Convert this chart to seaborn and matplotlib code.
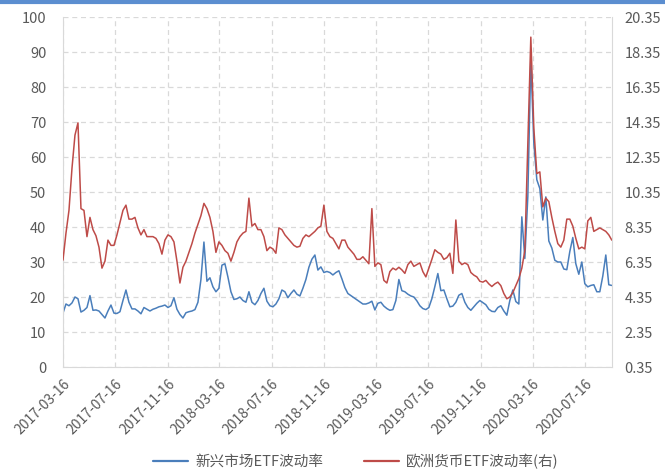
import numpy as np
import pandas as pd
import matplotlib
matplotlib.use("Agg")
import matplotlib.pyplot as plt
import matplotlib.dates as mdates
from matplotlib.lines import Line2D
import seaborn as sns

# ---------------- data (weekly readings) ----------------
start_date = "2017-03-16"
n_weeks = 184

em_vol = [
    15.4, 18.0, 17.5, 18.3, 20.0, 19.5, 15.7, 16.2, 17.0, 20.4,
    16.2, 16.3, 16.0, 15.0, 14.0, 16.0, 17.7, 15.4, 15.3, 15.8,
    19.0, 22.0, 18.5, 16.6, 16.6, 16.0, 15.2, 17.0, 16.5, 16.0,
    16.5, 16.8, 17.2, 17.4, 17.7, 17.0, 17.5, 19.8, 16.5, 15.0,
    14.0, 15.5, 15.8, 16.0, 16.4, 18.5, 25.0, 35.7, 24.5, 25.5,
    22.9, 21.5, 22.5, 29.1, 29.5, 25.7, 21.5, 19.3, 19.5, 20.0,
    19.0, 18.5, 21.5, 18.5, 17.8, 19.0, 21.0, 22.5, 18.8, 17.5,
    17.2, 18.0, 19.5, 22.0, 21.5, 19.8, 21.0, 22.0, 20.8, 20.3,
    22.5, 25.0, 28.5, 30.8, 32.0, 27.7, 28.6, 27.0, 27.3, 27.0,
    26.3, 27.0, 27.5, 25.2, 22.7, 21.0, 20.4, 19.8, 19.2, 18.6,
    18.0, 18.0, 18.3, 18.8, 16.3, 18.2, 18.5, 17.4, 16.7, 16.2,
    16.4, 19.0, 25.0, 21.8, 21.5, 20.8, 20.3, 20.0, 18.9, 17.5,
    16.7, 16.4, 17.0, 19.5, 23.0, 26.7, 21.8, 22.0, 19.5, 17.2,
    17.4, 18.5, 20.5, 21.0, 18.5, 17.0, 16.2, 17.2, 18.2, 19.0,
    18.4, 17.8, 16.5, 15.9, 15.8, 17.0, 17.5, 16.0, 14.8, 19.0,
    22.0, 18.7, 18.0, 42.9, 31.0, 48.7, 88.0, 64.0, 53.5, 51.0,
    42.0, 48.6, 36.0, 34.0, 30.5, 30.0, 30.0, 28.0, 27.8, 33.0,
    37.0, 29.5, 26.5, 30.0, 23.8, 22.9, 23.3, 23.5, 21.5, 21.5,
    26.0, 32.0, 23.5, 23.3,
]

eur_vol = [
    6.46, 8.0, 9.3, 11.7, 13.6, 14.3, 9.4, 9.3, 7.8, 8.9,
    8.2, 7.85, 7.2, 6.0, 6.4, 7.6, 7.3, 7.3, 7.9, 8.6,
    9.3, 9.6, 8.8, 8.8, 8.9, 8.3, 7.9, 8.2, 7.8, 7.8,
    7.8, 7.7, 7.4, 6.8, 7.6, 7.9, 7.8, 7.5, 6.4, 5.15,
    6.05, 6.4, 6.9, 7.4, 8.0, 8.5, 9.0, 9.7, 9.4, 8.9,
    8.1, 6.9, 7.5, 7.3, 7.0, 6.85, 6.4, 6.9, 7.5, 7.8,
    8.0, 8.1, 10.0, 8.4, 8.55, 8.2, 8.2, 7.8, 7.0, 7.2,
    7.1, 6.85, 8.3, 8.2, 7.9, 7.7, 7.5, 7.3, 7.2, 7.25,
    7.7, 7.9, 7.8, 7.95, 8.1, 8.3, 8.4, 9.6, 8.1, 7.8,
    7.7, 7.4, 7.1, 7.6, 7.6, 7.2, 7.0, 6.8, 6.5, 6.5,
    6.65, 6.45, 6.25, 9.4, 6.1, 6.3, 6.2, 5.3, 5.15, 5.8,
    6.0, 5.9, 6.05, 5.9, 5.7, 6.2, 6.4, 6.1, 6.2, 6.3,
    5.8, 5.5, 6.0, 6.5, 7.05, 6.9, 6.8, 6.5, 6.6, 6.85,
    5.7, 8.75, 6.4, 6.2, 6.3, 6.2, 5.75, 5.6, 5.5, 5.25,
    5.2, 5.3, 5.1, 4.95, 5.1, 5.2, 5.0, 4.55, 4.25, 4.35,
    4.6, 5.0, 5.4, 6.0, 7.0, 13.15, 19.2, 14.0, 11.4, 11.5,
    9.5, 10.0, 9.8, 8.9, 8.1, 7.4, 7.2, 7.6, 8.8, 8.8,
    8.4, 7.7, 7.1, 7.2, 7.1, 8.7, 8.9, 8.1, 8.2, 8.3,
    8.2, 8.1, 7.9, 7.6,
]

tick_dates = ["2017-03-16", "2017-07-16", "2017-11-16", "2018-03-16",
              "2018-07-16", "2018-11-16", "2019-03-16", "2019-07-16",
              "2019-11-16", "2020-03-16", "2020-07-16"]
left_ticks = [0, 10, 20, 30, 40, 50, 60, 70, 80, 90, 100]
right_ticks = [0.35, 2.35, 4.35, 6.35, 8.35, 10.35, 12.35, 14.35, 16.35, 18.35, 20.35]

label_em = "新兴市场ETF波动率"
label_eur = "欧洲货币ETF波动率(右)"

# ---------------- build frame ----------------
dates = pd.date_range(start_date, periods=n_weeks, freq="7D")
df = pd.DataFrame({"date": dates, "em": em_vol, "eur": eur_vol})

sns.set_style("white")
plt.rcParams["font.family"] = ["Noto Sans CJK SC", "DejaVu Sans"]

BLUE = "#4A7EBB"
RED = "#BE4B48"
GRID = "#D9D9D9"
TXT = "#595959"

fig = plt.figure(figsize=(6.65, 4.71), dpi=100)
ax = fig.add_axes([0.0947, 0.2208, 0.8253, 0.7431])
ax2 = ax.twinx()

sns.lineplot(data=df, x="date", y="em", ax=ax, color=BLUE, linewidth=1.1, legend=False)
sns.lineplot(data=df, x="date", y="eur", ax=ax2, color=RED, linewidth=1.1, legend=False)

ax.set_xlim(dates[0], dates[-1])
ax.set_ylim(0, 100)
ax2.set_ylim(0.35, 20.35)
ax.set_yticks(left_ticks)
ax2.set_yticks(right_ticks)
ax2.set_yticklabels([f"{v:.2f}" for v in right_ticks])

xt = pd.to_datetime(tick_dates)
ax.set_xticks(xt)
ax.set_xticklabels([d.strftime("%Y-%m-%d") for d in xt], rotation=45, ha="right",
                   rotation_mode="anchor")

ax.set_xlabel("")
ax.set_ylabel("")
ax2.set_ylabel("")

ax.grid(True, color=GRID, linestyle=(0, (4, 3)), linewidth=0.9)
ax.set_axisbelow(True)

for a in (ax, ax2):
    for s in a.spines.values():
        s.set_visible(False)
ax.spines["left"].set_visible(True)
ax.spines["left"].set_color("#D9D9D9")
ax.spines["bottom"].set_visible(True)
ax.spines["bottom"].set_color("#D9D9D9")
ax2.spines["right"].set_visible(True)
ax2.spines["right"].set_color("#D9D9D9")

ax.tick_params(axis="x", colors=TXT, labelsize=10, length=4, width=0.8,
               color="#BFBFBF", pad=3)
ax.tick_params(axis="y", colors=TXT, labelsize=10.5, length=0, pad=12)
ax2.tick_params(axis="y", colors=TXT, labelsize=10.5, length=0, pad=9)

# legend
handles = [Line2D([0], [0], color=BLUE, lw=1.6), Line2D([0], [0], color=RED, lw=1.6)]
leg = fig.legend(handles, [label_em, label_eur], loc="center", bbox_to_anchor=(0.535, 0.02),
                 ncol=2, frameon=False, fontsize=10.5, handlelength=2.4,
                 columnspacing=2.8, handletextpad=0.5)
for t in leg.get_texts():
    t.set_color(TXT)

# top accent line
fig.add_artist(Line2D([0, 1], [0.996, 0.996], transform=fig.transFigure,
                      color="#5B8ED0", lw=3))

fig.savefig("out.png", dpi=100)
